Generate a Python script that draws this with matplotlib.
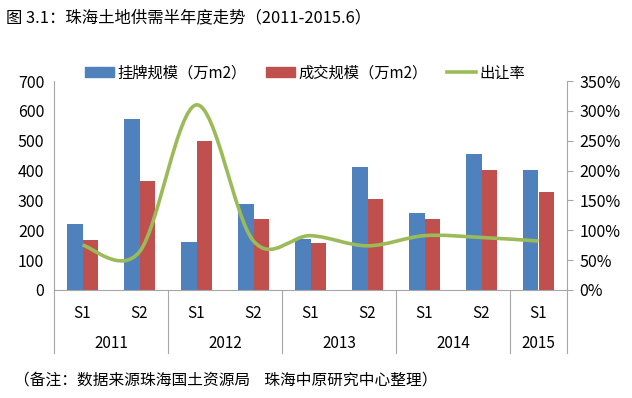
import numpy as np
import matplotlib.pyplot as plt
from matplotlib.path import Path
from matplotlib.patches import PathPatch, Patch
from matplotlib.lines import Line2D
import matplotlib.transforms as mtransforms
from matplotlib.ticker import FuncFormatter

plt.rcParams['font.family'] = ['Noto Sans CJK SC', 'DejaVu Sans']

# data
halves = ["S1", "S2", "S1", "S2", "S1", "S2", "S1", "S2", "S1"]
years = ["2011", "2012", "2013", "2014", "2015"]
year_spans = [(0, 1), (2, 3), (4, 5), (6, 7), (8, 8)]
listed = [222, 572, 160, 289, 172, 411, 259, 456, 401]     # 挂牌规模
sold = [166, 366, 499, 237, 156, 304, 237, 402, 328]       # 成交规模
rate = [0.75, 0.64, 3.10, 0.82, 0.91, 0.74, 0.91, 0.88, 0.82]  # 出让率

blue = "#4F81BD"
red = "#C0504D"
green = "#9BBB59"
grey = "#A6A6A6"

W, H = 632, 398
fig = plt.figure(figsize=(W / 100, H / 100), dpi=100)
ax = fig.add_axes([54 / W, (H - 290) / H, (567 - 54) / W, (290 - 81) / H])

x = np.arange(len(halves))
bw = 0.28
ax.bar(x - bw / 2, listed, bw, color=blue, zorder=2)
ax.bar(x + bw / 2, sold, bw, color=red, zorder=2)

ax.set_xlim(-0.5, len(halves) - 0.5)
ax.set_ylim(0, 700)
ax.set_yticks(range(0, 701, 100))
ax.tick_params(axis='y', length=0, pad=7, labelsize=11.5)
ax.set_xticks(x)
ax.set_xticklabels(halves)
ax.tick_params(axis='x', length=0, pad=11, labelsize=11)
for s in ['top', 'right']:
    ax.spines[s].set_visible(False)
for s in ['left', 'bottom']:
    ax.spines[s].set_color(grey)

# year labels and separators under the axis
trans = mtransforms.blended_transform_factory(ax.transData, ax.transAxes)
for (a, b), yr in zip(year_spans, years):
    ax.text((a + b) / 2, -0.255, yr, transform=trans, ha='center', va='center',
            fontsize=11)
seps = [-0.5] + [b + 0.5 for a, b in year_spans]
for sx in seps:
    ax.plot([sx, sx], [0, -0.30], transform=trans, color=grey, lw=0.8,
            clip_on=False)

# rate line on the secondary axis, smoothed like Excel
ax2 = ax.twinx()
ax2.set_ylim(0, 3.5)
ax2.set_yticks(np.arange(0, 3.51, 0.5))
ax2.yaxis.set_major_formatter(FuncFormatter(lambda v, p: f"{v * 100:.0f}%"))
ax2.tick_params(axis='y', length=4, color=grey, pad=5, labelsize=11.5)
for s in ['top', 'left', 'bottom']:
    ax2.spines[s].set_visible(False)
ax2.spines['right'].set_color(grey)

pts = np.column_stack([x, rate]).astype(float)
verts = [pts[0]]
codes = [Path.MOVETO]
n = len(pts)
for i in range(n - 1):
    p0 = pts[i - 1] if i > 0 else pts[i]
    p1 = pts[i]
    p2 = pts[i + 1]
    p3 = pts[i + 2] if i + 2 < n else pts[i + 1]
    verts += [p1 + (p2 - p0) / 6, p2 - (p3 - p1) / 6, p2]
    codes += [Path.CURVE4] * 3
ax2.add_patch(PathPatch(Path(verts, codes), facecolor='none', edgecolor=green,
                        lw=2.6, zorder=3))

# legend
handles = [Patch(color=blue), Patch(color=red), Line2D([], [], color=green, lw=2.6)]
labels = ["挂牌规模（万m2）", "成交规模（万m2）", "出让率"]
fig.legend(handles, labels, loc='center left', bbox_to_anchor=(85 / W, 1 - 73 / H),
           ncol=3, frameon=False, fontsize=11, handlelength=1.9,
           handleheight=0.6, handletextpad=0.2, columnspacing=1.3,
           borderaxespad=0, borderpad=0)

fig.text(6 / W, 1 - 18 / H, "图 3.1：珠海土地供需半年度走势（2011-2015.6）",
         ha='left', va='center', fontsize=11.8)
fig.text(14 / W, 1 - 380 / H, "（备注：数据来源珠海国土资源局    珠海中原研究中心整理）",
         ha='left', va='center', fontsize=11.3)

fig.savefig("out.png", dpi=100)
